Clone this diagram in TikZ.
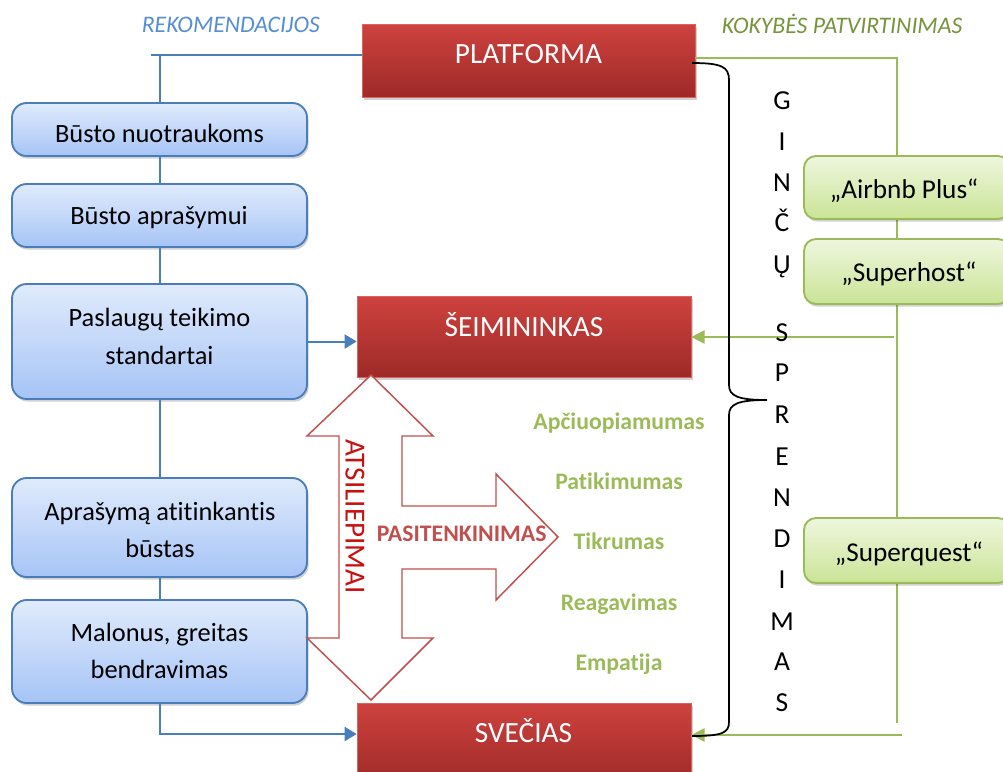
\documentclass[tikz,border=0pt]{standalone}
\usepackage{fontspec}
\setmainfont{Carlito}[Ligatures={NoCommon}]
\usetikzlibrary{arrows.meta,shadows}
\definecolor{bline}{RGB}{74,126,187}
\definecolor{bluetop}{RGB}{224,235,252}
\definecolor{bluebot}{RGB}{166,196,246}
\definecolor{redtop}{RGB}{206,66,62}
\definecolor{redmid}{RGB}{194,56,53}
\definecolor{redbot}{RGB}{158,42,40}
\definecolor{rededge}{RGB}{214,100,96}
\definecolor{gline}{RGB}{155,187,89}
\definecolor{greentop}{RGB}{238,246,222}
\definecolor{greenbot}{RGB}{202,228,150}
\definecolor{gtitle}{RGB}{119,147,60}
\definecolor{btitle}{RGB}{85,142,213}
\definecolor{arrred}{RGB}{192,80,77}
\definecolor{atsred}{RGB}{200,16,16}
\begin{document}
\begin{tikzpicture}[x=0.75pt,y=-0.75pt,
  shad/.style={drop shadow={shadow xshift=1.2pt,shadow yshift=-2pt,opacity=0.18,fill=black}},
  redbox/.style={draw=rededge,line width=0.5pt,top color=redtop,middle color=redmid,bottom color=redbot,inner sep=0pt,shad},
  bluebox/.style={draw=bline,line width=1.4pt,rounded corners=11pt,top color=bluetop,bottom color=bluebot,minimum width=221.25pt,inner sep=0pt,shad},
  greenbox/.style={draw=gline,line width=1.4pt,rounded corners=9pt,top color=greentop,bottom color=greenbot,minimum width=154.5pt,inner sep=0pt,shad},
  rtxt/.style={font=\fontsize{22}{26}\selectfont,text=white,anchor=base,inner sep=0pt},
  btxt/.style={font=\fontsize{19.8}{24}\selectfont,text=black,anchor=base,inner sep=0pt},
  gtxt/.style={font=\fontsize{20.4}{24}\selectfont,text=black,anchor=base,inner sep=0pt},
  lbl/.style={font=\bfseries\fontsize{17.8}{21}\selectfont,text=gline,anchor=base,inner sep=0pt},
  letter/.style={font=\fontsize{20.6}{24}\selectfont,text=black,anchor=base,inner sep=0pt},
  ttl/.style={font=\itshape\fontsize{17.8}{21}\selectfont,anchor=base,inner sep=0pt},
  bl/.style={draw=bline,line width=1.5pt},
  bla/.style={bl,-{Triangle[length=9pt,width=10.5pt]}},
  gl/.style={draw=gline,line width=1.5pt},
  gla/.style={gl,-{Triangle[length=10pt,width=10pt]}},
  bigarrow/.style={draw=arrred,line width=1.1pt,fill=white,line join=miter},
  bracestyle/.style={draw=black,line width=1.3pt}
]
\useasboundingbox (0,0) rectangle (1003,771);
\clip (0,0) rectangle (1003,771);

% titles
\node[ttl,text=btitle] (rek) at (230.8,32.3) {REKOMENDACIJOS};
\node[ttl,text=gtitle] (kok) at (842,33.3) {KOKYBĖS PATVIRTINIMAS};

% green vertical line (behind green boxes)
\coordinate (gt) at (897,57.5);
\coordinate (gb) at (897,723);

% red boxes
\node[redbox,minimum width=249.75pt,minimum height=54.75pt] (plat) at (528.5,60.5) {};
\node[redbox,minimum width=250.5pt,minimum height=60.75pt] (sei) at (524,336.5) {};
\node[redbox,minimum width=250.5pt,minimum height=60pt] (svec) at (524,743) {};
\node[rtxt] (platT) at (528.5,63) {PLATFORMA};
\node[rtxt] (seiT) at (524,336.5) {ŠEIMININKAS};
\node[rtxt] (svecT) at (523.5,742) {SVEČIAS};

\draw[gl] (gt -| plat.east) -- (gt) -- (gb);

% blue boxes
\node[bluebox,minimum height=39.75pt] (b1) at (159.5,129.5) {};
\node[bluebox,minimum height=47.25pt] (b2) at (159.5,215.5) {};
\node[bluebox,minimum height=86.25pt] (b3) at (159.5,341.5) {};
\node[bluebox,minimum height=74.25pt] (b4) at (159.5,527.5) {};
\node[bluebox,minimum height=77.25pt] (b5) at (159.5,651.5) {};
\node[btxt] (t1) at (159.5,142.3) {Būsto nuotraukoms};
\node[btxt] (t2) at (159,224) {Būsto aprašymui};
\node[btxt] (t3a) at (159.5,326.7) {Paslaugų teikimo};
\node[btxt] (t3b) at (159.5,364) {standartai};
\node[btxt] (t4a) at (160,520) {Aprašymą atitinkantis};
\node[btxt] (t4b) at (160,557) {būstas};
\node[btxt] (t5a) at (159.5,641.7) {Malonus, greitas};
\node[btxt] (t5b) at (159.5,678.3) {bendravimas};

% green boxes
\node[greenbox,minimum height=47.25pt] (g1) at (907,187.5) {};
\node[greenbox,minimum height=48.75pt] (g2) at (907,271.5) {};
\node[greenbox,minimum height=48.75pt] (g3) at (907,550.5) {};
\node[gtxt] (g1t) at (904,198.3) {„Airbnb Plus“};
\node[gtxt] (g2t) at (909,281.7) {„Superhost“};
\node[gtxt] (g3t) at (909,561.7) {„Superquest“};

% blue connectors
\coordinate (rk) at (151,55);
\draw[bl] (rk) -- (rk -| plat.west);
\draw[bl] (b1.north) -- (b1.north |- rk);
\draw[bl] (b1.south) -- (b2.north);
\draw[bl] (b2.south) -- (b3.north);
\draw[bl] (b3.south) -- (b4.north);
\draw[bl] (b4.south) -- (b5.north);
\draw[bla] (b3.east) -- (b3.east -| sei.west);
\coordinate (sv) at (0,734);
\draw[bla] (b5.south) |- (sv -| svec.west);

% green arrows
\coordinate (ga) at (894,337);
\draw[gla] (ga) -- (ga -| sei.east);
\coordinate (gc) at (902,735);
\draw[gla] (gc) -- (gc -| svec.east);

% brace
\draw[bracestyle] (692,63) .. controls (722,63) and (729,67) .. (729,80) -- (729,385)
  .. controls (729,396) and (738,400) .. (767,400)
  .. controls (738,400) and (729,404) .. (729,415) -- (729,722)
  .. controls (729,733) and (722,736) .. (692,736);

% vertical letters
\foreach \l/\y [count=\i] in {G/109.3,I/150.7,N/191.7,Č/231.7,Ų/273,S/341.7,P/381.7,R/423.3,E/465,N/506.7,D/547.7,I/588.3,M/630,A/670.7,S/711.7}
  \node[letter] (gs\i) at (782,\y) {\l};

% big outline arrow
\draw[bigarrow] (371,375) -- (433,436) -- (402,436) -- (402,506) -- (496,506) -- (496,474)
  -- (558,537) -- (496,600) -- (496,569) -- (402,569) -- (402,638) -- (433,638)
  -- (371,700) -- (307,638) -- (339,638) -- (339,436) -- (307,436) -- cycle;
\node[rotate=-90,font=\fontsize{21.8}{26}\selectfont,text=atsred,inner sep=0pt] (ats) at (355,516.5) {ATSILIEPIMAI};
\node[lbl,text=arrred] (pas) at (461.7,541.7) {PASITENKINIMAS};

% green labels
\node[lbl] (l1) at (619,429) {Apčiuopiamumas};
\node[lbl] (l2) at (619,489) {Patikimumas};
\node[lbl] (l3) at (619,549.3) {Tikrumas};
\node[lbl] (l4) at (619,610) {Reagavimas};
\node[lbl] (l5) at (619,670) {Empatija};
\end{tikzpicture}
\end{document}
